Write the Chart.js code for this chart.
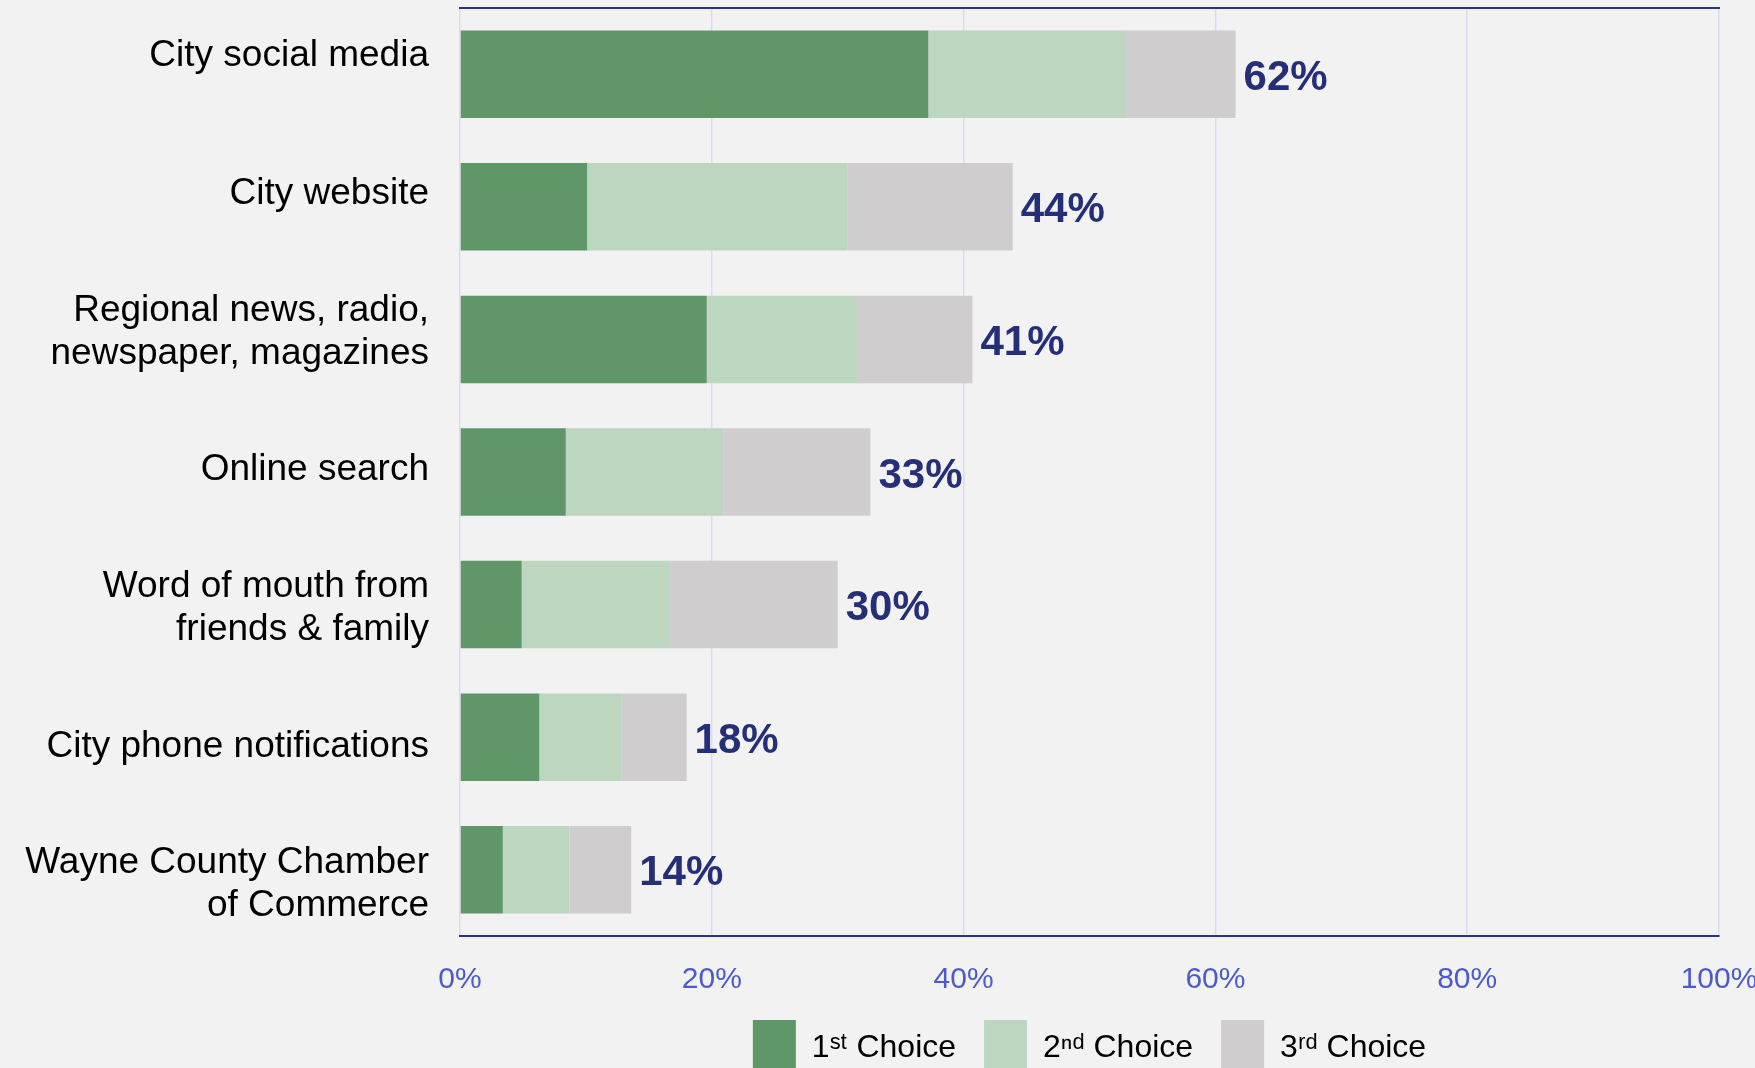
<!DOCTYPE html>
<meta charset="utf-8">
<html>
  <head>
    <script src="https://cdn.jsdelivr.net/npm/chart.js"></script>
    <style>
      html, body { margin: 0; padding: 0; background: #f2f2f2; overflow: hidden; }
      #wrap { width: 1755px; height: 1068px; overflow: hidden; }
    </style>
  </head>
  <body>
    <div id="wrap">
      <canvas id="chart" width="1800" height="1100"></canvas>
    </div>
  </body>

  <script>
    // Data (percent of respondents)
    const categories = [
      'City social media',
      'City website',
      ['Regional news, radio,', 'newspaper, magazines'],
      'Online search',
      ['Word of mouth from', 'friends & family'],
      'City phone notifications',
      ['Wayne County Chamber', 'of Commerce']
    ];
    const firstChoice  = [37.2, 10.1, 19.6, 8.4, 4.9, 6.3, 3.4];
    const secondChoice = [15.7, 20.7, 12.0, 12.5, 11.7, 6.5, 5.3];
    const thirdChoice  = [8.7, 13.1, 9.1, 11.7, 13.4, 5.2, 4.9];
    const seriesNames  = ['1ˢᵗ Choice', '2ⁿᵈ Choice', '3ʳᵈ Choice'];
    const xTicks       = [0, 20, 40, 60, 80, 100];

    const FONT = "'Liberation Sans', Arial, sans-serif";

    // total label at the end of each stacked bar
    const totalsPlugin = {
      id: 'totals',
      afterDatasetsDraw(chart) {
        const ctx = chart.ctx;
        const xs = chart.scales.x;
        const meta = chart.getDatasetMeta(0);
        ctx.save();
        ctx.font = 'bold 42px ' + FONT;
        ctx.fillStyle = '#252f78';
        ctx.textAlign = 'left';
        ctx.textBaseline = 'middle';
        categories.forEach((c, i) => {
          const total = firstChoice[i] + secondChoice[i] + thirdChoice[i];
          const x = xs.getPixelForValue(total) + 8;
          const y = meta.data[i].y + 4;
          ctx.fillText(Math.round(total) + '%', x, y);
        });
        ctx.restore();
      }
    };

    const data = {
      labels: categories,
      datasets: [
        { label: seriesNames[0], data: firstChoice,  backgroundColor: '#5f9769' },
        { label: seriesNames[1], data: secondChoice, backgroundColor: '#bcd6c0' },
        { label: seriesNames[2], data: thirdChoice,  backgroundColor: '#cfcdce' }
      ]
    };

    const config = {
      type: 'bar',
      data: data,
      options: {
        indexAxis: 'y',
        responsive: false,
        animation: false,
        devicePixelRatio: 1,
        layout: { padding: { top: 8, right: 81, bottom: 14, left: 0 } },
        datasets: {
          bar: { categoryPercentage: 1, barPercentage: 0.66, borderWidth: 0 }
        },
        plugins: {
          tooltip: { enabled: false },
          legend: {
            position: 'bottom',
            fullSize: false,
            labels: {
              boxWidth: 43,
              boxHeight: 56,
              padding: 28,
              color: '#000',
              font: { family: FONT, size: 32 }
            }
          }
        },
        scales: {
          x: {
            type: 'linear',
            stacked: true,
            min: 0,
            max: 100,
            afterBuildTicks: s => { s.ticks = xTicks.map(v => ({ value: v })); },
            afterFit: s => { s.height = 56; },
            ticks: {
              padding: 26,
              color: '#4d5bc9',
              font: { family: FONT, size: 30 },
              callback: v => v + '%'
            },
            grid: { color: '#d8dbf1', lineWidth: 1.5, drawTicks: false },
            border: { color: '#2b3487', width: 2 }
          },
          x2: {
            type: 'linear',
            position: 'top',
            min: 0,
            max: 100,
            afterFit: s => { s.height = 0; s.paddingLeft = 0; s.paddingRight = 0; },
            ticks: { display: false },
            grid: { display: false, drawTicks: false },
            border: { color: '#2b3487', width: 2 }
          },
          y: {
            type: 'category',
            stacked: true,
            display: false
          },
          // label axis: Excel spreads the category labels a bit wider than the bars
          yl: {
            type: 'linear',
            position: 'left',
            reverse: true,
            offset: false,
            min: -0.345,
            max: 6.372,
            afterBuildTicks: s => { s.ticks = categories.map((c, i) => ({ value: i })); },
            afterFit: s => { s.width = 460; s.paddingTop = 0; s.paddingBottom = 0; },
            ticks: {
              padding: 31,
              color: '#000',
              autoSkip: false,
              font: { family: FONT, size: 37, lineHeight: 1.16 },
              callback: v => categories[v]
            },
            grid: { display: false, drawTicks: false },
            border: { display: false }
          }
        }
      },
      plugins: [totalsPlugin]
    };

    new Chart(document.getElementById('chart'), config);
  </script>
</html>
